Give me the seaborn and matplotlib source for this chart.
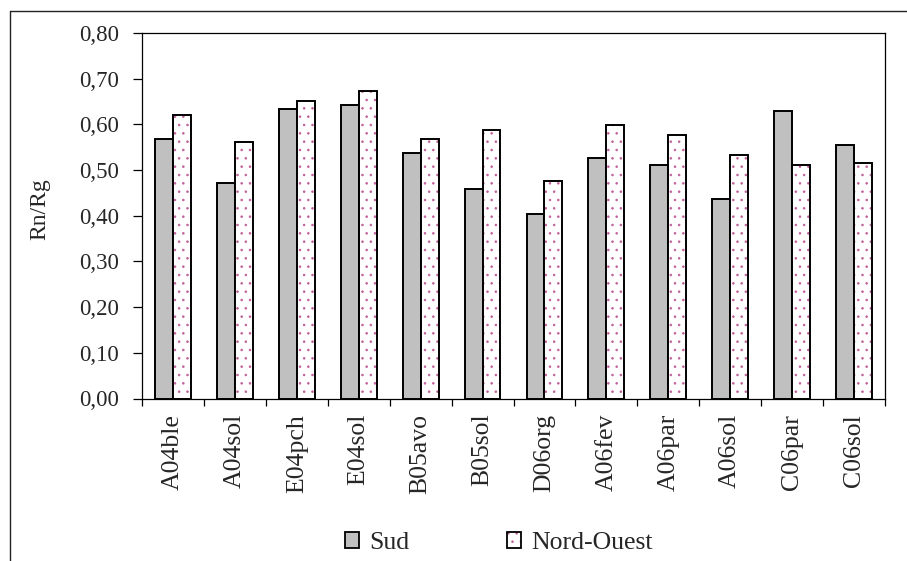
import matplotlib
matplotlib.use("Agg")
import matplotlib.pyplot as plt
from matplotlib.lines import Line2D
from matplotlib.ticker import FuncFormatter, FixedLocator, MultipleLocator
import numpy as np
import pandas as pd
import seaborn as sns

# Rn/Rg ratio per plot, south-facing vs north-west-facing sensors
sites = ["A04ble", "A04sol", "E04pch", "E04sol", "B05avo", "B05sol",
         "D06org", "A06fev", "A06par", "A06sol", "C06par", "C06sol"]
sud = [0.568, 0.472, 0.634, 0.643, 0.538, 0.459,
       0.403, 0.526, 0.512, 0.437, 0.630, 0.555]
nord_ouest = [0.621, 0.561, 0.651, 0.674, 0.568, 0.587,
              0.477, 0.599, 0.577, 0.534, 0.512, 0.516]
series = ["Sud", "Nord-Ouest"]

df = pd.DataFrame({
    "site": sites * 2,
    "valeur": sud + nord_ouest,
    "serie": [series[0]] * len(sites) + [series[1]] * len(sites),
})

sns.set_style("white")
serif = ["Liberation Serif", "DejaVu Serif"]
plt.rcParams["font.family"] = serif
plt.rcParams["hatch.linewidth"] = 0.6

W, H = 907, 561
fig = plt.figure(figsize=(W / 100, H / 100), dpi=100)
ax = fig.add_axes([142 / W, (H - 398.5) / H, (885 - 142) / W, (398.5 - 33) / H])

dot_color = "#c0609a"
sns.barplot(data=df, x="site", y="valeur", hue="serie", order=sites,
            hue_order=series, palette=["#c0c0c0", "#ffffff"],
            edgecolor="black", linewidth=1.4, width=0.58, gap=0,
            saturation=1, ax=ax, legend=True)

def dotted(patch):
    patch.set_hatch("..")
    if hasattr(patch, "set_hatchcolor"):
        patch.set_hatchcolor(dot_color)
    else:
        patch._hatch_color = matplotlib.colors.to_rgba(dot_color)

for p in ax.containers[1]:
    dotted(p)

ax.set_ylim(0, 0.8)
ax.set_xlim(-0.5, len(sites) - 0.5)
ax.yaxis.set_major_locator(MultipleLocator(0.1))
ax.yaxis.set_major_formatter(FuncFormatter(lambda v, _: f"{v:.2f}".replace(".", ",")))
ax.xaxis.set_minor_locator(FixedLocator(np.arange(-0.5, len(sites), 1.0)))

ax.tick_params(axis="y", which="major", direction="out", length=6.5, width=0.9,
               pad=10, labelsize=16.5, left=True, color="black")
ax.tick_params(axis="x", which="major", length=0, pad=11, labelsize=18.5,
               labelrotation=90)
ax.tick_params(axis="x", which="minor", direction="out", length=5, width=0.9,
               bottom=True, color="black")
for lab in ax.get_xticklabels():
    lab.set_va("top")

for side in ["left", "bottom", "top", "right"]:
    ax.spines[side].set_visible(True)
    ax.spines[side].set_color("black")
    ax.spines[side].set_linewidth(0.9)

ax.set_xlabel("")
ax.set_ylabel("Rn/Rg", fontsize=17, family=serif)
ax.yaxis.set_label_coords(-0.123, 0.518)

handles, labels = ax.get_legend_handles_labels()
ax.get_legend().remove()
for h in handles:
    h.set_linewidth(1.3)
dotted(handles[1])
fig.legend(handles, labels, loc="center", bbox_to_anchor=(499 / W, 1 - 543 / H),
           ncol=2, frameon=False, prop={"family": serif, "size": 18.5},
           handlelength=0.55, handleheight=0.55, handletextpad=0.4,
           columnspacing=3.8, borderpad=0)

# chart frame (top and left edges)
fig.add_artist(Line2D([10 / W, 1.0], [1 - 11 / H, 1 - 11 / H],
                      transform=fig.transFigure, color="#222222", lw=1.0))
fig.add_artist(Line2D([10 / W, 10 / W], [1 - 11 / H, 0],
                      transform=fig.transFigure, color="#222222", lw=1.0))

fig.savefig("out.png", dpi=100, facecolor="white")
